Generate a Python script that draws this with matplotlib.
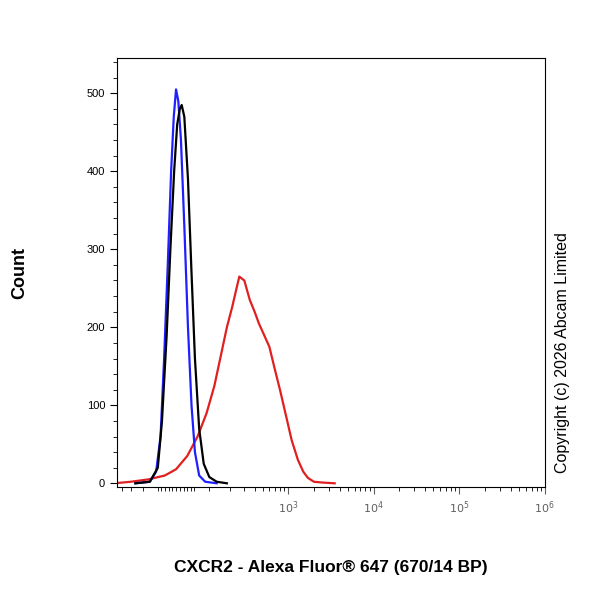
import numpy as np
import matplotlib.pyplot as plt

plt.rcParams['font.family'] = ['Liberation Sans', 'DejaVu Sans']

W = 98.0  # linear width of the arcsinh display

blue_x = [-130, -75, -55, -42, -32, -22, -13, -6, 0, 6, 13, 22, 32, 42, 52, 65, 85, 130]
blue_y = [0, 2, 15, 60, 160, 280, 400, 470, 505, 490, 440, 330, 200, 100, 40, 10, 2, 0]

black_x = [-130, -75, -50, -38, -25, -15, -5, 3, 10, 15, 22, 32, 42, 52, 65, 80, 100, 130, 180]
black_y = [0, 2, 20, 80, 190, 300, 400, 460, 480, 485, 470, 390, 270, 160, 70, 25, 8, 2, 0]

red_x = [-250, -150, -80, -30, 0, 30, 60, 90, 120, 150, 180, 210, 240, 260, 300, 350, 400, 450, 520,
         600, 700, 800, 950, 1100, 1300, 1500, 1700, 2000, 2500, 3500]
red_y = [0, 2, 5, 10, 18, 35, 60, 90, 125, 165, 200, 225, 250, 265, 260, 235, 220, 205, 190,
         175, 145, 120, 85, 55, 30, 15, 7, 2, 1, 0]

fig, ax = plt.subplots(figsize=(6, 6), dpi=100)
fig.subplots_adjust(left=0.195, right=0.908, bottom=0.188, top=0.903)

ax.set_xscale('function', functions=(lambda v: np.arcsinh(np.asarray(v) / W),
                                     lambda u: np.sinh(np.asarray(u)) * W))

ax.plot(red_x, red_y, color='#e02020', lw=1.6)
ax.plot(blue_x, blue_y, color='#2020ff', lw=1.6)
ax.plot(black_x, black_y, color='black', lw=1.6)

ax.set_xlim(-230, 8.5e5)
ax.set_ylim(-5, 545)

ax.set_yticks([0, 100, 200, 300, 400, 500])
ax.set_yticks(np.arange(0, 545, 20), minor=True)
ax.tick_params(axis='y', labelsize=8, direction='out', length=5)
ax.tick_params(axis='y', which='minor', length=3)

major_x = [1e3, 1e4, 1e5, 1e6]
ax.set_xticks(major_x)
ax.set_xticklabels(['$10^3$', '$10^4$', '$10^5$', '$10^6$'])
minor_x = [-200, -150, -100, -50, -40, -30, -20, -10, 0, 10, 20, 30, 40, 50, 100, 200, 300, 400, 500,
           600, 700, 800, 900]
for d in [1e3, 1e4, 1e5]:
    minor_x += [d * k for k in range(2, 10)]
ax.set_xticks(minor_x, minor=True)
ax.tick_params(axis='x', labelsize=8, direction='out', length=5, colors='#606060', labelcolor='#606060')
ax.tick_params(axis='x', which='minor', length=3)

ax.set_ylabel('Count', fontsize=13, fontweight='bold', labelpad=42)
ax.set_xlabel('CXCR2 - Alexa Fluor® 647 (670/14 BP)', fontsize=12.5, fontweight='bold')
ax.xaxis.set_label_coords(0.50, -0.17)

fig.text(0.937, 0.413, 'Copyright (c) 2026 Abcam Limited', rotation=90, fontsize=11.5,
         ha='center', va='center')

fig.savefig('out.png', dpi=100)
